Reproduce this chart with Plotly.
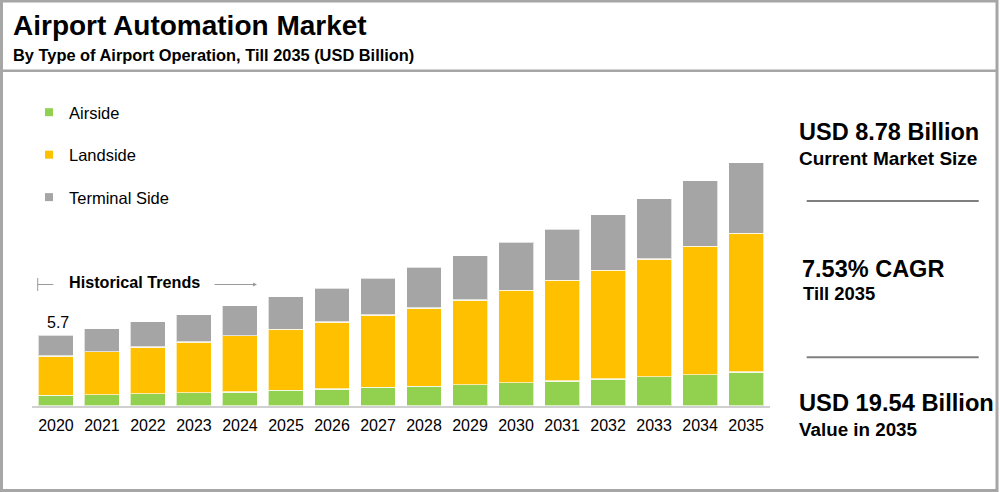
import plotly.graph_objects as go

# ---------------- data ----------------
years = ["2020", "2021", "2022", "2023", "2024", "2025", "2026", "2027",
         "2028", "2029", "2030", "2031", "2032", "2033", "2034", "2035"]
airside = [0.86, 0.92, 1.00, 1.08, 1.12, 1.26, 1.36, 1.50,
           1.58, 1.72, 1.88, 2.01, 2.17, 2.36, 2.52, 2.72]
landside = [3.17, 3.45, 3.72, 4.06, 4.53, 4.90, 5.38, 5.81,
            6.28, 6.79, 7.41, 8.08, 8.72, 9.44, 10.30, 11.14]
terminal = [1.67, 1.85, 2.06, 2.20, 2.41, 2.62, 2.73, 2.97,
            3.27, 3.56, 3.85, 4.12, 4.47, 4.85, 5.27, 5.68]
series_names = ["Airside", "Landside", "Terminal Side"]
series_colors = ["#92d050", "#ffc000", "#a5a5a5"]
first_label = "5.7"

title = "Airport Automation Market"
subtitle = "By Type of Airport Operation, Till 2035 (USD Billion)"
hist_label = "Historical Trends"
kpis = [("USD 8.78 Billion", "Current Market Size"),
        ("7.53% CAGR", "Till 2035"),
        ("USD 19.54 Billion", "Value in 2035")]

# ---------------- geometry helpers ----------------
W, H = 1000, 492
L, R, T, B = 32, 230, 132, 86
PW, PH = W - L - R, H - T - B
FONT = "Arial, 'Liberation Sans', sans-serif"


def px(x):
    return (x - L) / PW


def py(y):
    return (H - B - y) / PH


def top_for(baseline, fs):
    return baseline - 0.905 * fs - 1


fig = go.Figure()
for name, vals, col in zip(series_names, [airside, landside, terminal], series_colors):
    fig.add_trace(go.Bar(
        x=years, y=vals, name=name, showlegend=False,
        marker=dict(color=col, line=dict(color="rgba(255,255,255,0.65)", width=1.5)),
        hoverinfo="x+y+name",
    ))
# legend entries with small square symbols
for i, (name, col) in enumerate(zip(series_names, series_colors)):
    fig.add_trace(go.Scatter(
        x=[None], y=[None], mode="markers", name=name, legendgroup=name,
        marker=dict(symbol="square", size=8, color=col),
    ))

totals = [a + b + c for a, b, c in zip(airside, landside, terminal)]

annotations = []
# total label above first bar
annotations.append(dict(x=0, y=totals[0], xref="x", yref="y", text=first_label,
                        showarrow=False, yanchor="bottom", yshift=2, xshift=2,
                        font=dict(family=FONT, size=16, color="#000000")))
# title & subtitle
annotations.append(dict(x=px(11), y=py(top_for(34, 28)), xref="paper", yref="paper",
                        text="<b>%s</b>" % title, showarrow=False, xanchor="left", yanchor="top",
                        font=dict(family=FONT, size=28, color="#000000")))
annotations.append(dict(x=px(11), y=py(top_for(60, 16.4)), xref="paper", yref="paper",
                        text="<b>%s</b>" % subtitle, showarrow=False, xanchor="left", yanchor="top",
                        font=dict(family=FONT, size=16.4, color="#000000")))
# historical trends
annotations.append(dict(x=px(66.5), y=py(top_for(286.7, 16.2)), xref="paper", yref="paper",
                        text="<b>%s</b>" % hist_label, showarrow=False, xanchor="left", yanchor="top",
                        font=dict(family=FONT, size=16.2, color="#000000")))
annotations.append(dict(x=px(257), y=py(284.5), xref="paper", yref="paper",
                        ax=-44, ay=0, axref="pixel", ayref="pixel",
                        text="", showarrow=True, arrowhead=2, arrowsize=0.8,
                        arrowwidth=1, arrowcolor="#9a9a9a"))
# KPI panel
kpi_pos = [(797, 139, 23.5, 797, 164, 19.0),
           (800, 276, 23.5, 801, 299, 18.4),
           (797, 410, 23.7, 797, 435, 18.8)]
for (big, small), (xb, yb, fb, xs, ys, fsm) in zip(kpis, kpi_pos):
    annotations.append(dict(x=px(xb), y=py(top_for(yb, fb)), xref="paper", yref="paper",
                            text="<b>%s</b>" % big, showarrow=False, xanchor="left", yanchor="top",
                            font=dict(family=FONT, size=fb, color="#000000")))
    annotations.append(dict(x=px(xs), y=py(top_for(ys, fsm)), xref="paper", yref="paper",
                            text="<b>%s</b>" % small, showarrow=False, xanchor="left", yanchor="top",
                            font=dict(family=FONT, size=fsm, color="#000000")))

border = "#a6a6a6"
shapes = [
    dict(type="rect", xref="paper", yref="paper", x0=px(1.5), x1=px(997), y0=py(1), y1=py(490.5),
         line=dict(color=border, width=3), layer="above"),
    dict(type="line", xref="paper", yref="paper", x0=px(0), x1=px(997), y0=py(70.7), y1=py(70.7),
         line=dict(color=border, width=2.5)),
    dict(type="line", xref="paper", yref="paper", x0=px(806.7), x1=px(978.7), y0=py(201), y1=py(201),
         line=dict(color="#7f7f7f", width=2)),
    dict(type="line", xref="paper", yref="paper", x0=px(806.7), x1=px(978.7), y0=py(357.3), y1=py(357.3),
         line=dict(color="#7f7f7f", width=2)),
    dict(type="line", xref="paper", yref="paper", x0=px(37.7), x1=px(37.7), y0=py(278), y1=py(291),
         line=dict(color="#9a9a9a", width=1)),
    dict(type="line", xref="paper", yref="paper", x0=px(37.7), x1=px(53.3), y0=py(284.5), y1=py(284.5),
         line=dict(color="#9a9a9a", width=1)),
]

fig.update_layout(
    width=W, height=H,
    margin=dict(l=L, r=R, t=T, b=B, pad=0),
    paper_bgcolor="white", plot_bgcolor="white",
    barmode="stack", bargap=0.24,
    font=dict(family=FONT, color="#000000"),
    showlegend=True,
    legend=dict(x=px(29), y=py(95), xanchor="left", yanchor="top",
                traceorder="grouped", tracegroupgap=18,
                font=dict(family=FONT, size=16.5, color="#000000"),
                bgcolor="rgba(0,0,0,0)", borderwidth=0),
    xaxis=dict(type="category", range=[-0.52, 15.52], showgrid=False, zeroline=False,
               showline=True, linecolor="#d0d0d0", linewidth=2, ticks="",
               ticklabelstandoff=4,
               tickfont=dict(family=FONT, size=16, color="#000000")),
    yaxis=dict(range=[0, 22.0], showticklabels=False, showline=False, ticks="",
               showgrid=False, zeroline=False),
    annotations=annotations,
    shapes=shapes,
)

fig.write_html("out.html", config={"displayModeBar": False},
               post_script="document.body.style.margin='0';document.body.style.overflow='hidden';")
